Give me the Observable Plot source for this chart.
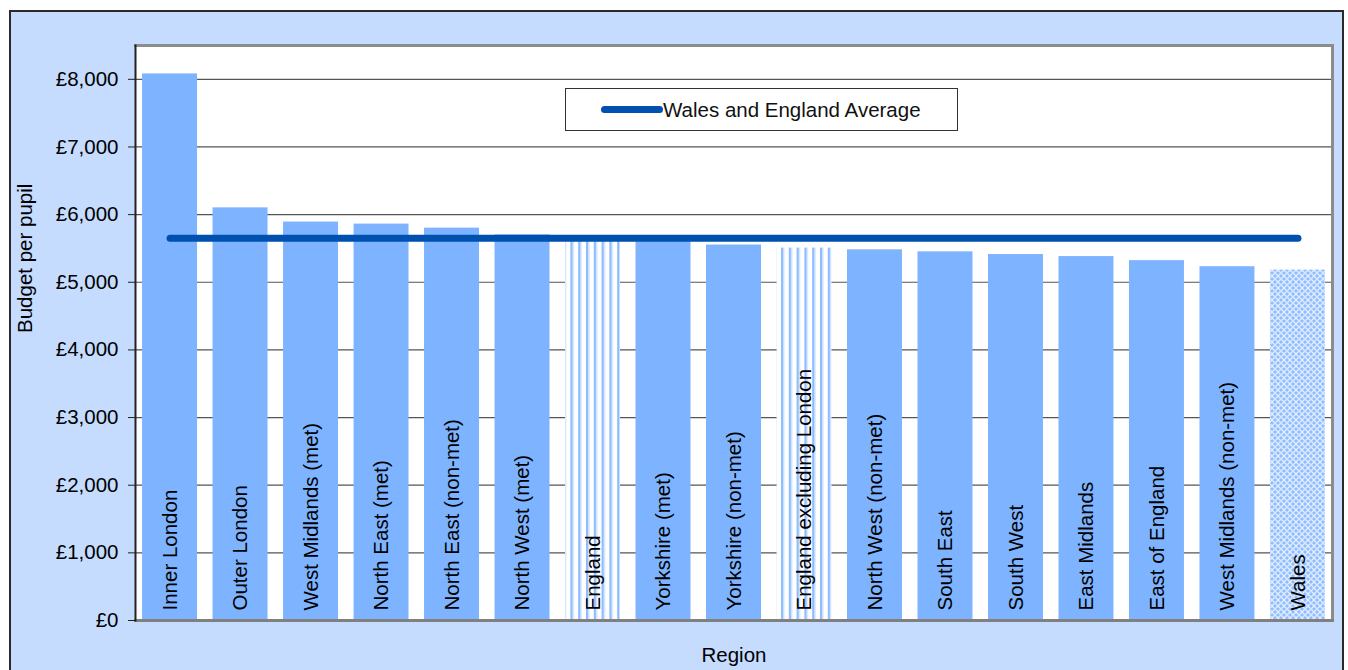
<!DOCTYPE html>
<html>
<head>
<meta charset="utf-8">
<script src="https://cdn.jsdelivr.net/npm/d3@7"></script>
<script src="https://cdn.jsdelivr.net/npm/@observablehq/plot@0.6"></script>
<style>
  html, body { margin: 0; padding: 0; background: #ffffff; width: 1348px; height: 670px; overflow: hidden; }
  body { position: relative; font-family: "Liberation Sans", Arial, sans-serif; }
  #frame { position: absolute; left: 9px; top: 10px; width: 1335px; height: 700px;
           border: 2px solid #2a2a2a; background: #C5DCFF; box-sizing: border-box; }
  #chart { position: absolute; left: 0; top: 0; }
  #legend { position: absolute; left: 565px; top: 88px; width: 393px; height: 43px; box-sizing: border-box;
            border: 1px solid #333; background: #fff; }
  #legend .sw { position: absolute; left: 35px; top: 17px; width: 62px; height: 7px; border-radius: 4px; background: #0050B0; }
  #legend .lb { position: absolute; left: 97px; top: 9px; font-size: 20.5px; color: #111; white-space: nowrap; }
</style>
</head>
<body>
<div id="frame"></div>
<div id="chart"></div>
<div id="legend"><div class="sw"></div><div class="lb">Wales and England Average</div></div>
<script>
// ---- data ----
const regions = [
  "Inner London", "Outer London", "West Midlands (met)", "North East (met)",
  "North East (non-met)", "North West (met)", "England", "Yorkshire (met)",
  "Yorkshire (non-met)", "England excluding London", "North West (non-met)",
  "South East", "South West", "East Midlands", "East of England",
  "West Midlands (non-met)", "Wales"
];
const budget = [
  8080, 6100, 5890, 5860, 5800, 5700, 5620, 5640,
  5550, 5505, 5480, 5450, 5410, 5380, 5320, 5230, 5180
];
const averageValue = 5650;
const yTicks = [0, 1000, 2000, 3000, 4000, 5000, 6000, 7000, 8000];

// ---- styles (not data) ----
const striped = new Set(["England", "England excluding London"]);
const hatched = new Set(["Wales"]);
const fillFor = r => striped.has(r) ? "url(#stripes)" : hatched.has(r) ? "url(#hatch)" : "#7EB4FF";

const table = regions.map((r, i) => ({region: r, value: budget[i], avg: averageValue}));

const fmt = d3.format(",");
const FS = 20.5;
const plot = Plot.plot({
  width: 1348,
  height: 670,
  marginLeft: 135,
  marginRight: 16,
  marginTop: 45,
  marginBottom: 50,
  style: {background: "transparent", fontFamily: "'Liberation Sans', Arial, sans-serif", color: "#000", overflow: "visible"},
  x: {domain: regions, paddingInner: 0.22, paddingOuter: 0.1, round: false, axis: null},
  y: {domain: [0, 8500], label: null, axis: null},
  color: {type: "identity"},
  marks: [
    Plot.frame({fill: "white", stroke: "none"}),
    Plot.gridY(yTicks.filter(d => d > 0), {stroke: "#555", strokeOpacity: 1, strokeWidth: 1.2}),
    Plot.barY(table, {x: "region", y: "value", fill: d => fillFor(d.region)}),
    Plot.lineY(table, {x: "region", y: "avg", stroke: "#0050B0", strokeWidth: 7, strokeLinecap: "round"}),
    Plot.text(table, {x: "region", y: 0, text: "region", rotate: -90, textAnchor: "start", dy: -10, fontSize: FS, fill: "#000"}),
    Plot.frame({anchor: "top", stroke: "#8c8c8c", strokeWidth: 3}),
    Plot.frame({anchor: "right", stroke: "#8c8c8c", strokeWidth: 3}),
    Plot.frame({anchor: "bottom", stroke: "#808080", strokeWidth: 3}),
    Plot.frame({anchor: "left", stroke: "#222", strokeWidth: 2}),
    Plot.axisY({ticks: yTicks, tickFormat: d => "£" + fmt(d), tickSize: 7, tickPadding: 10, fontSize: FS, label: null, stroke: "#222"}),
    Plot.text(["Budget per pupil"], {frameAnchor: "left", rotate: -90, dx: -110, fontSize: FS, fill: "#000"}),
    Plot.text(["Region"], {frameAnchor: "bottom", dy: 41, fontSize: FS, fill: "#000"})
  ]
});

plot.insertAdjacentHTML("afterbegin", `
<defs>
  <pattern id="stripes" patternUnits="userSpaceOnUse" width="7.8" height="8">
    <rect width="7.8" height="8" fill="#ffffff"/>
    <rect x="1" width="2.2" height="8" fill="#8CBCFF"/>
    <rect x="3.2" width="1.2" height="8" fill="#C4DCFF"/>
  </pattern>
  <pattern id="hatch" patternUnits="userSpaceOnUse" width="6" height="6">
    <rect width="6" height="6" fill="#8FBDFF"/>
    <path d="M0,0 L6,6 M6,0 L0,6" stroke="#ffffff" stroke-width="1.3" stroke-opacity="0.75"/>
    <circle cx="3" cy="3" r="0.9" fill="#cfe2ff"/>
  </pattern>
</defs>`);

document.getElementById("chart").appendChild(plot);
</script>
</body>
</html>
